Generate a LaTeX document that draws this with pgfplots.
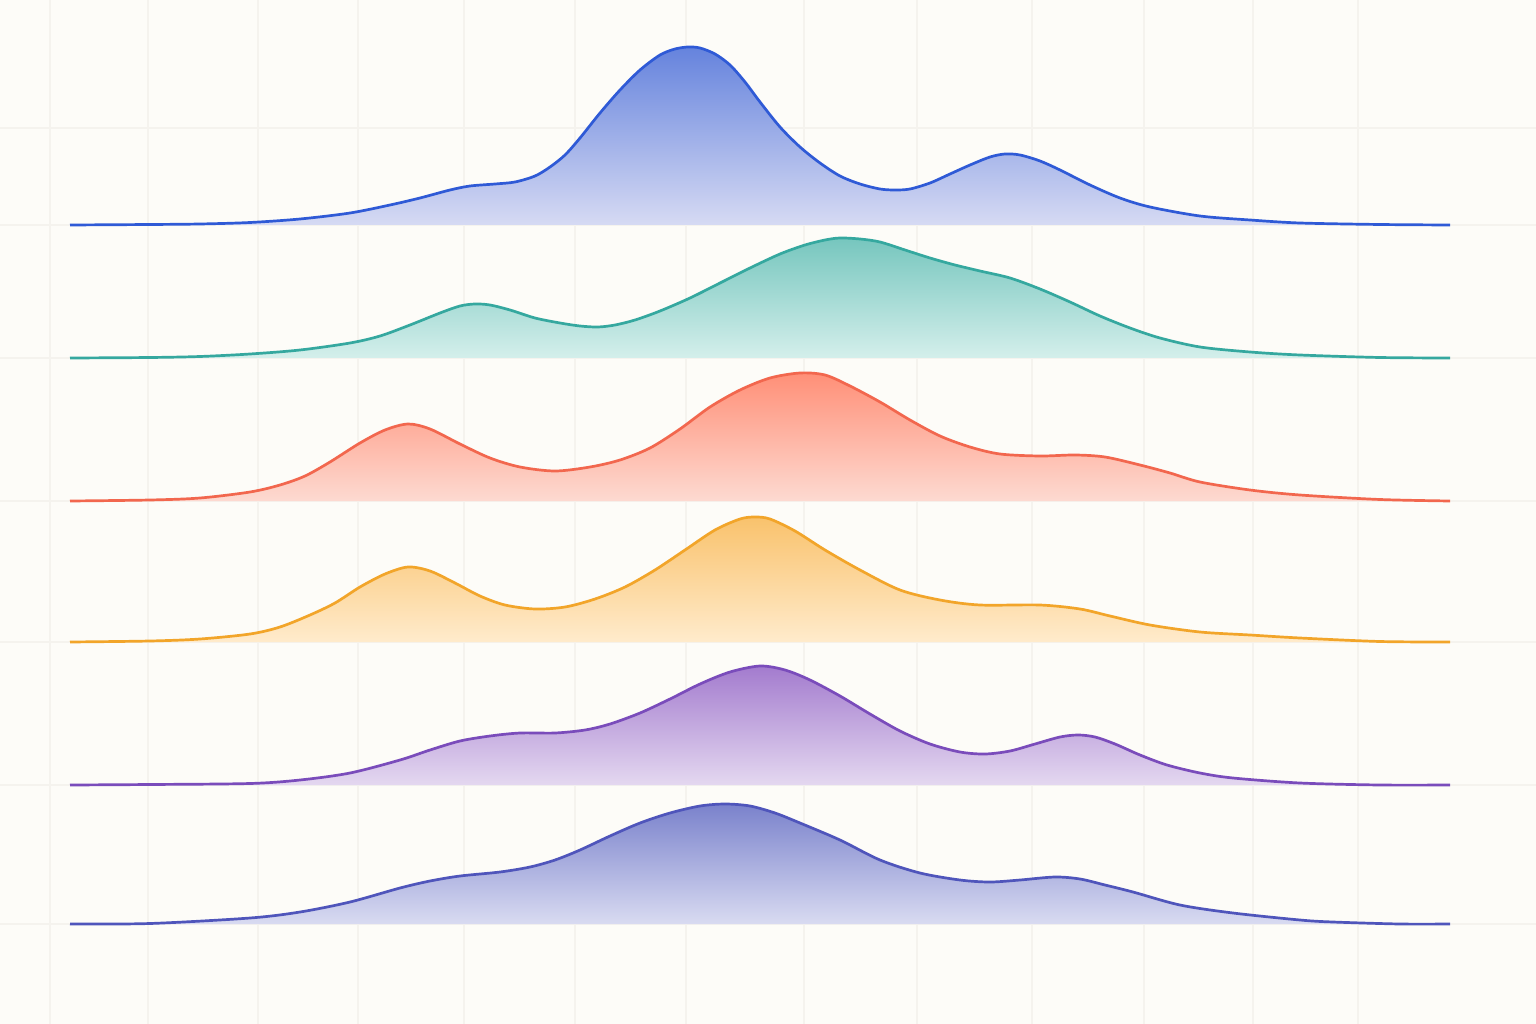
\documentclass[border=0pt]{standalone}
\usepackage{pgfplots}
\usepackage{pgfplotstable}
\pgfplotsset{compat=1.18}

\definecolor{bg}{HTML}{FDFCF8}
\definecolor{gridc}{HTML}{F5F3EE}
% line / top of fill / bottom of fill
\definecolor{blueL}{HTML}{2F5AD6}\definecolor{blueT}{HTML}{6583DD}\definecolor{blueB}{HTML}{D6DAF3}
\definecolor{tealL}{HTML}{35A89F}\definecolor{tealT}{HTML}{76C6BE}\definecolor{tealB}{HTML}{D4EFEB}
\definecolor{coraL}{HTML}{F2674E}\definecolor{coraT}{HTML}{FF8F77}\definecolor{coraB}{HTML}{FDDAD1}
\definecolor{oranL}{HTML}{F2A52A}\definecolor{oranT}{HTML}{F9C26C}\definecolor{oranB}{HTML}{FFEBCC}
\definecolor{purpL}{HTML}{7A4CBB}\definecolor{purpT}{HTML}{A37BCE}\definecolor{purpB}{HTML}{E4D8F0}
\definecolor{indiL}{HTML}{4F55BB}\definecolor{indiT}{HTML}{7A82CC}\definecolor{indiB}{HTML}{D9DBF1}

% ridge curves, x and y in picture units (y measured downwards)
\pgfplotstableread{
x y
70 225
150 224.5
200 224
250 222.5
300 219
350 213
390 205
420 198
450 190
470 186
495 184
515 182
535 176
550 167
565 155
580 138
600 113
620 90
640 70
660 55
675 49
688 47
700 48
715 54
730 65
745 82
760 102
780 127
800 147
820 163
840 176
860 184
880 189
895 190
910 189
930 183
950 174
970 165
990 157
1005 154
1020 155
1040 161
1060 170
1090 185
1120 198
1150 207
1200 216
1250 220
1300 223
1380 224.5
1450 225
}\ridgeA

\pgfplotstableread{
x y
70 358
150 357.5
200 356.5
250 354
300 350
350 343
380 336
410 325
440 313
460 306
475 304
490 305
510 310
535 318
560 323
580 326
598 327
615 325
635 320
660 311
690 298
720 283
750 268
780 254
805 245
825 240
840 238
860 239
880 242
905 250
930 258
955 265
980 271
1010 278
1040 289
1070 302
1100 316
1130 328
1160 338
1200 347
1250 352
1300 355
1380 357.5
1450 358
}\ridgeB

\pgfplotstableread{
x y
70 501
150 500
200 498
250 492
280 485
305 476
330 462
360 443
385 430
408 424
430 429
460 444
490 458
520 467
555 471
590 467
620 460
650 448
680 429
710 407
740 390
770 378
800 373
825 375
850 386
880 402
910 420
940 436
970 447
1000 454
1040 456
1075 455
1105 457
1140 465
1170 473
1200 482
1250 490
1300 495
1380 499.5
1450 501
}\ridgeC

\pgfplotstableread{
x y
70 642
150 641
200 639
250 634
280 627
310 615
335 603
360 587
385 574
408 567
430 571
455 583
480 596
505 605
535 609
565 607
595 599
625 587
655 570
685 550
715 530
740 519
755 517
770 519
795 531
825 550
860 570
900 590
940 600
980 605
1040 605
1080 609
1110 616
1150 625
1200 632
1250 635
1300 638
1380 641.5
1450 642
}\ridgeD

\pgfplotstableread{
x y
70 785
150 784.5
250 783.5
300 780
350 773
400 760
430 750
460 741
490 736
520 733
555 733
585 730
610 724
640 713
670 699
700 684
730 672
760 666
785 670
810 680
840 696
870 714
900 731
930 744
960 752
985 754
1010 751
1035 744
1060 737
1078 735
1095 737
1115 744
1140 755
1167 765
1200 773
1233 778
1300 783
1380 785
1450 785
}\ridgeE

\pgfplotstableread{
x y
70 924
150 923.5
250 918
300 912
350 902
400 888
430 881
460 876
500 872
530 867
555 860
580 850
610 836
640 823
670 813
700 806
725 804
750 806
775 813
800 823
840 840
880 860
920 873
960 880
990 882
1020 880
1055 877
1080 879
1105 885
1133 892
1180 905
1233 913
1300 920
1333 922
1400 924
1450 924
}\ridgeF

\begin{document}
\begin{tikzpicture}
\begin{axis}[
    scale only axis,
    width=16cm, height=10.6667cm,
    xmin=0, xmax=1536, ymin=0, ymax=1024,
    y dir=reverse,
    axis background/.style={fill=bg},
    axis line style={draw=none},
    major tick length=0pt,
    xtick={50,148,258,358,464,575,686,804,917,1032,1144,1253,1358},
    ytick={128,225,358,501,642,785,924},
    xticklabels={}, yticklabels={},
    grid=major,
    major grid style={draw=gridc, line width=0.45pt},
    clip=false,
]
% one filled area and one outline per ridge
\addplot[draw=none, top color=blueT, bottom color=blueB, smooth, tension=0.5] table {\ridgeA} -- cycle;
\addplot[blueL, line width=0.8pt, smooth, tension=0.5] table {\ridgeA};

\addplot[draw=none, top color=tealT, bottom color=tealB, smooth, tension=0.5] table {\ridgeB} -- cycle;
\addplot[tealL, line width=0.8pt, smooth, tension=0.5] table {\ridgeB};

\addplot[draw=none, top color=coraT, bottom color=coraB, smooth, tension=0.5] table {\ridgeC} -- cycle;
\addplot[coraL, line width=0.8pt, smooth, tension=0.5] table {\ridgeC};

\addplot[draw=none, top color=oranT, bottom color=oranB, smooth, tension=0.5] table {\ridgeD} -- cycle;
\addplot[oranL, line width=0.8pt, smooth, tension=0.5] table {\ridgeD};

\addplot[draw=none, top color=purpT, bottom color=purpB, smooth, tension=0.5] table {\ridgeE} -- cycle;
\addplot[purpL, line width=0.8pt, smooth, tension=0.5] table {\ridgeE};

\addplot[draw=none, top color=indiT, bottom color=indiB, smooth, tension=0.5] table {\ridgeF} -- cycle;
\addplot[indiL, line width=0.8pt, smooth, tension=0.5] table {\ridgeF};
\end{axis}
\pgfresetboundingbox
\useasboundingbox (current axis.south west) rectangle (current axis.north east);
\end{tikzpicture}
\end{document}
